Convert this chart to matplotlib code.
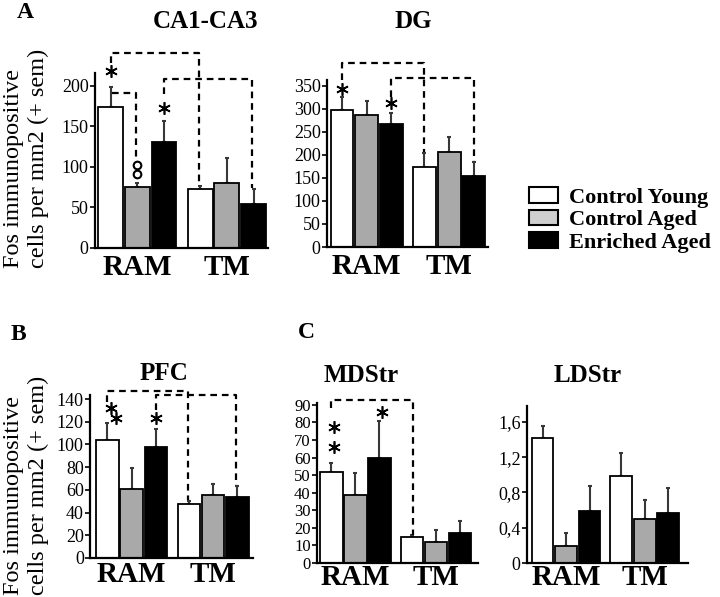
import numpy as np
import matplotlib
matplotlib.use('Agg')
import matplotlib.pyplot as plt
from matplotlib.patches import Patch

plt.rcParams['font.family'] = ['Liberation Serif', 'DejaVu Serif']

# Data (order: RAM young, aged, enriched, TM young, aged, enriched)
groups = ['RAM', 'TM']
series = ['Control Young', 'Control Aged', 'Enriched Aged']
bar_colors = ['white', '#a9a9a9', 'black']

ca1_mean = [174, 75, 131, 73, 80, 54]
ca1_sem = [25, 5, 26, 3, 31, 19]
dg_mean = [298, 287, 267, 174, 207, 154]
dg_sem = [29, 31, 24, 30, 32, 31]
pfc_mean = [104, 61, 98, 47.5, 55.5, 54]
pfc_sem = [15, 18, 16, 2.5, 9.5, 9]
mdstr_mean = [51.5, 38.5, 60, 15, 12, 17]
mdstr_sem = [5.5, 12.5, 21, 1, 6.5, 6.7]
ldstr_mean = [1.42, 0.19, 0.59, 0.99, 0.50, 0.565]
ldstr_sem = [0.13, 0.15, 0.28, 0.26, 0.21, 0.285]

ca1_ticks = [0, 50, 100, 150, 200]
dg_ticks = [0, 50, 100, 150, 200, 250, 300, 350]
pfc_ticks = [0, 20, 40, 60, 80, 100, 120, 140]
mdstr_ticks = [0, 10, 20, 30, 40, 50, 60, 70, 80, 90]
ldstr_ticks = [0, 0.4, 0.8, 1.2, 1.6]
ldstr_ticklabels = ['0', '0,4', '0,8', '1,2', '1,6']

W, H = 720, 597
xpos = np.array([0, 1, 2, 3.35, 4.35, 5.35])
group_x = [1, 4.35]


def px(x, y):
    return x / W, 1 - y / H


def make_axes(fig, x0, x1, base, top, ymax, xlim):
    ax = fig.add_axes([x0 / W, 1 - base / H, (x1 - x0) / W, (base - top) / H])
    ax.set_xlim(*xlim)
    ax.set_ylim(0, ymax)
    for s in ['top', 'right']:
        ax.spines[s].set_visible(False)
    for s in ['left', 'bottom']:
        ax.spines[s].set_linewidth(1.6)
    return ax


def draw_bars(ax, means, sem, tick_size, label_pad):
    colors = bar_colors * 2
    ax.bar(xpos, means, width=0.93, color=colors, edgecolor='black', linewidth=1.3, zorder=2)
    ax.errorbar(xpos, means, yerr=[np.zeros(len(sem)), sem], fmt='none',
                ecolor='#383838', elinewidth=1.5, capsize=1.5, capthick=1.5, zorder=1)
    ax.set_xticks(group_x)
    ax.set_xticklabels(groups, fontsize=21, fontweight='bold')
    ax.tick_params(axis='x', length=0, pad=label_pad)
    ax.tick_params(axis='y', direction='out', length=3.5, width=1.2, pad=1, labelsize=tick_size)


def bracket(ax, pts):
    xs = [p[0] for p in pts]
    ys = [p[1] for p in pts]
    ax.plot(xs, ys, color='black', lw=1.6, linestyle=(0, (3, 2.2)), clip_on=False, zorder=3)


def stars(ax, pts):
    for x, y in pts:
        ax.plot(x, y, marker=(6, 2, 0), markersize=9, color='black', mew=1.2,
                clip_on=False, zorder=4)


fig = plt.figure(figsize=(W / 100, H / 100), dpi=100)

# CA1-CA3
ax = make_axes(fig, 95, 268, 248, 73, 216, (-0.58, 5.89))
draw_bars(ax, ca1_mean, ca1_sem, 13, 4)
ax.set_yticks(ca1_ticks)
bracket(ax, [(0, 228), (0, 241), (3.3, 241), (3.3, 81)])
bracket(ax, [(2, 190), (2, 208), (5.3, 208), (5.3, 74)])
bracket(ax, [(0.05, 191), (0.95, 191), (0.95, 112)])
ax.plot([1, 1], [102, 91], 'o', markersize=5.5, mfc='white', mec='black', mew=1.5,
        clip_on=False, zorder=4)
stars(ax, [(0, 218), (2, 173)])

# DG
ax = make_axes(fig, 327, 488, 247, 80, 363, (-0.61, 5.93))
draw_bars(ax, dg_mean, dg_sem, 13, 4)
ax.set_yticks(dg_ticks)
bracket(ax, [(0, 363), (0, 400), (3.35, 400), (3.35, 206)])
bracket(ax, [(2, 326), (2, 368), (5.35, 368), (5.35, 187)])
stars(ax, [(0, 343), (2, 313)])

# PFC
ax = make_axes(fig, 90, 253, 558, 395, 143.6, (-0.72, 5.99))
draw_bars(ax, pfc_mean, pfc_sem, 13, 2)
ax.set_yticks(pfc_ticks)
bracket(ax, [(0, 137), (0, 147), (3.3, 147), (3.3, 51)])
bracket(ax, [(2, 130), (2, 143.6), (5.3, 143.6), (5.3, 64)])
stars(ax, [(0.14, 132), (0.35, 123), (2, 123)])

# MDStr
ax = make_axes(fig, 317, 478, 563, 403, 91, (-0.6, 6.1))
draw_bars(ax, mdstr_mean, mdstr_sem, 12, 1)
ax.set_yticks(mdstr_ticks)
bracket(ax, [(0, 88), (0, 92.8), (3.38, 92.8), (3.38, 16)])
stars(ax, [(0.1, 77.5), (0.1, 66), (2.1, 85.6)])

# LDStr
ax = make_axes(fig, 527, 688, 563, 406, 1.78, (-0.66, 6.19))
draw_bars(ax, ldstr_mean, ldstr_sem, 13, 1)
ax.set_yticks(ldstr_ticks)
ax.set_yticklabels(ldstr_ticklabels)

# titles and panel letters
title_kw = dict(ha='center', va='center', fontsize=18, fontweight='bold')
fig.text(*px(205, 22), 'CA1-CA3', **title_kw)
fig.text(*px(413, 22), 'DG', **title_kw)
fig.text(*px(164, 373), 'PFC', **title_kw)
fig.text(*px(361, 376), 'MDStr', **title_kw)
fig.text(*px(588, 376), 'LDStr', **title_kw)

letter_kw = dict(ha='center', va='center', fontsize=17, fontweight='bold')
fig.text(*px(25, 13), 'A', **letter_kw)
fig.text(*px(18, 335), 'B', **letter_kw)
fig.text(*px(306, 333), 'C', **letter_kw)

ylab = 'Fos immunopositive\ncells per mm2 (+ sem)'
fig.text(*px(26, 268), ylab, rotation=90, ha='center', va='bottom',
         multialignment='left', fontsize=17.5, linespacing=1.2)
fig.text(*px(26, 595), ylab, rotation=90, ha='center', va='bottom',
         multialignment='left', fontsize=17.5, linespacing=1.2)

# legend
handles = [Patch(facecolor=c, edgecolor='black', linewidth=1.5)
           for c in ['white', '#cfcfcf', 'black']]
fig.legend(handles, series, loc='center left', bbox_to_anchor=px(529, 220),
           frameon=False, prop={'family': 'Liberation Serif', 'weight': 'bold', 'size': 16},
           handlelength=1.3, handleheight=0.7, handletextpad=0.5,
           labelspacing=0.08, borderpad=0, borderaxespad=0)

fig.savefig('out.png', dpi=100)
